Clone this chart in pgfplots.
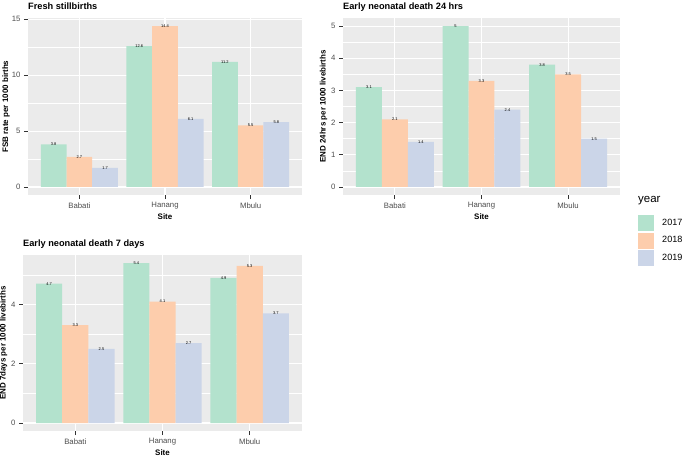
\documentclass[border=0pt]{standalone}
\usepackage{pgfplots}
\pgfplotsset{compat=1.18}
\usepackage{fontspec}
\setmainfont{Liberation Sans}
\definecolor{c17}{HTML}{B3E2CD}
\definecolor{c18}{HTML}{FDCDAC}
\definecolor{c19}{HTML}{CBD5E8}
\definecolor{panelbg}{HTML}{EBEBEB}
\definecolor{tickc}{HTML}{333333}
\definecolor{labc}{HTML}{4D4D4D}
\pgfplotsset{
  /pgf/number format/assume math mode=true,
  panel/.style={
    scale only axis, ybar, bar width=0.3,
    xmin=0.4, xmax=3.6, xtick={1,2,3}, xticklabels={Babati,Hanang,Mbulu},
    axis background/.style={fill=panelbg},
    axis line style={draw=none},
    xmajorgrids, ymajorgrids, yminorgrids,
    major grid style={white, line width=1.1bp},
    minor grid style={white, line width=0.55bp},
    tick align=outside, xtick pos=bottom, ytick pos=left,
    major tick length=4bp, minor tick length=0pt,
    tick style={color=tickc, line width=0.9bp},
    ticklabel style={font=\fontsize{7.8}{8}\selectfont, text=labc},
    every axis title shift=0pt,
    title style={at={(axis description cs:0,1)}, anchor=base west, yshift=8.8bp, inner sep=0pt, font=\bfseries\fontsize{9.25}{10}\selectfont},
    xlabel style={anchor=center, inner sep=0pt, font=\bfseries\fontsize{8}{9}\selectfont},
    ylabel style={anchor=center, inner sep=0pt, font=\bfseries\fontsize{8}{9}\selectfont},
    nodes near coords,
    nodes near coords style={font=\fontsize{4}{4}\selectfont, anchor=center, inner sep=0pt, text=black},
    xlabel={Site},
  },
  key/.style={legend image code/.code={\fill[##1] (0bp,-8bp) rectangle (16bp,8bp);}},
}
\begin{document}
\begin{tikzpicture}
\useasboundingbox (0,0) rectangle (685bp,-456bp);
% Panel 1
\begin{axis}[panel, at={(28bp,-195bp)}, anchor=south west, width=274bp, height=177bp,
  ymin=-0.72, ymax=15.12, ytick={0,5,10,15}, minor ytick={2.5,7.5,12.5},
  title={Fresh stillbirths}, ylabel={FSB rate per 1000 births},
  xlabel style={at={(axis description cs:0.5,-0.124)}},
  ylabel style={at={(axis description cs:-0.08,0.5)}}]
\addplot[fill=c17, draw=none, bar shift=-0.3] coordinates {(1,3.8) (2,12.6) (3,11.2)};
\addplot[fill=c18, draw=none, bar shift=0] coordinates {(1,2.7) (2,14.4) (3,5.5)};
\addplot[fill=c19, draw=none, bar shift=0.3] coordinates {(1,1.7) (2,6.1) (3,5.8)};
\end{axis}
% Panel 2
\begin{axis}[panel, at={(343bp,-195bp)}, anchor=south west, width=277bp, height=177bp,
  ymin=-0.25, ymax=5.25, ytick={0,1,2,3,4,5}, minor ytick={0.5,1.5,2.5,3.5,4.5},
  title={Early neonatal death 24 hrs}, ylabel={END 24hrs per 1000 livebirths},
  xlabel style={at={(axis description cs:0.5,-0.124)}},
  ylabel style={at={(axis description cs:-0.07,0.5)}},
  legend style={at={(axis description cs:1.065,-0.113)}, anchor=north west, draw=none, fill=none,
    inner sep=0pt, nodes={inner sep=0pt}, column sep=8bp, row sep=1.3bp,
    font=\fontsize{9.1}{10}\selectfont},
  legend cell align=left]
\addplot[fill=c17, draw=none, bar shift=-0.3, key] coordinates {(1,3.1) (2,5) (3,3.8)};
\addplot[fill=c18, draw=none, bar shift=0, key] coordinates {(1,2.1) (2,3.3) (3,3.5)};
\addplot[fill=c19, draw=none, bar shift=0.3, key] coordinates {(1,1.4) (2,2.4) (3,1.5)};
\legend{2017,2018,2019}
\end{axis}
\node[anchor=west, inner sep=0pt, font=\fontsize{11.5}{12}\selectfont] at (638bp,-201bp) {year};
% Panel 3
\begin{axis}[panel, at={(23bp,-431bp)}, anchor=south west, width=279bp, height=176bp,
  ymin=-0.27, ymax=5.67, ytick={0,2,4}, minor ytick={1,3,5},
  title={Early neonatal death 7 days}, ylabel={END 7days per 1000 livebirths},
  xlabel style={at={(axis description cs:0.5,-0.125)}},
  ylabel style={at={(axis description cs:-0.07,0.5)}}]
\addplot[fill=c17, draw=none, bar shift=-0.3] coordinates {(1,4.7) (2,5.4) (3,4.9)};
\addplot[fill=c18, draw=none, bar shift=0] coordinates {(1,3.3) (2,4.1) (3,5.3)};
\addplot[fill=c19, draw=none, bar shift=0.3] coordinates {(1,2.5) (2,2.7) (3,3.7)};
\end{axis}
\end{tikzpicture}
\end{document}
